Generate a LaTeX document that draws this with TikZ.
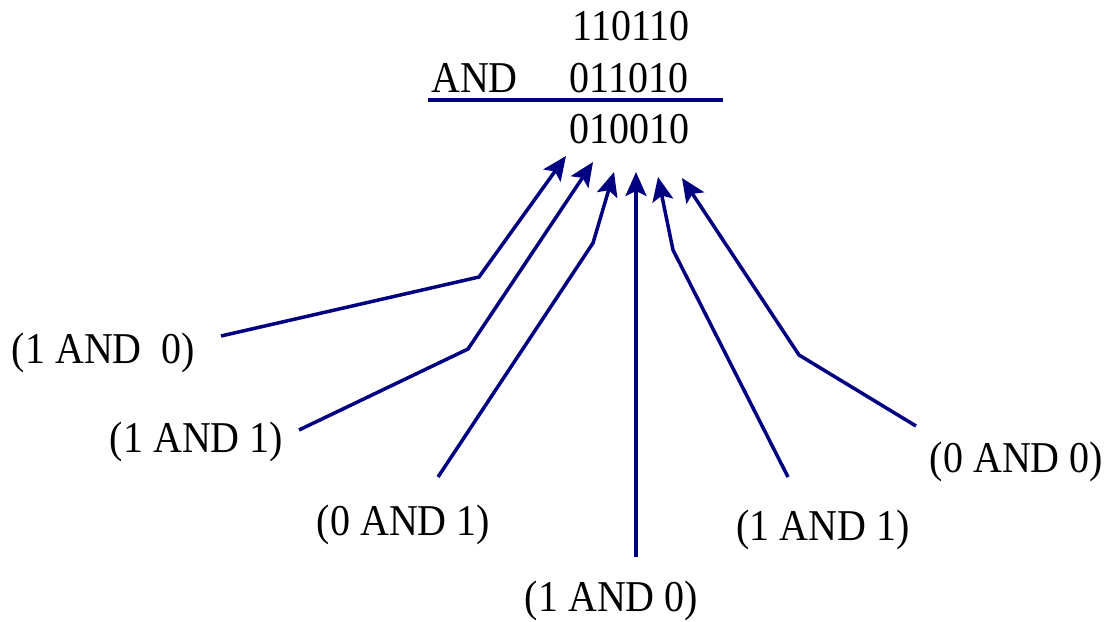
\documentclass[tikz,border=0pt]{standalone}
\usepackage{fontspec}
\setmainfont{Liberation Serif}
\usetikzlibrary{arrows.meta}
\definecolor{navy}{RGB}{0,0,128}
\newcommand\talltext[1]{\scalebox{1}[1.1]{#1}}
\tikzset{
  txt/.style={inner sep=0pt, anchor=base, font=\fontsize{40}{44}\selectfont},
  conn/.style={draw=navy, line width=3.5pt, line join=miter, -{Stealth[length=24pt,width=21pt,inset=5pt]}},
  rule/.style={draw=navy, line width=4pt}
}
\begin{document}
\begin{tikzpicture}[x=1pt,y=-1pt]
\useasboundingbox (0,0) rectangle (1108,621);
% operands
\node[txt] (a) at (631,40) {\talltext{110110}};
\node[txt] (op) at (474.5,92) {\talltext{AND}};
\node[txt] (b) at (629,92) {\talltext{011010}};
\node[txt] (r) at (629,143) {\talltext{010010}};
\coordinate (rl) at (428,100);
\coordinate (rr) at (723,100);
\draw[rule] (rl) -- (rr);
% labels
\node[txt] (l1) at (103.5,363) {\talltext{(1 AND\ \ 0)}};
\node[txt] (l2) at (196.5,452) {\talltext{(1 AND 1)}};
\node[txt] (l3) at (403.5,535) {\talltext{(0 AND 1)}};
\node[txt] (l4) at (611.5,611) {\talltext{(1 AND 0)}};
\node[txt] (l5) at (823,540) {\talltext{(1 AND 1)}};
\node[txt] (l6) at (1016.5,472) {\talltext{(0 AND 0)}};
% tips
\coordinate (t1) at (566,156);
\coordinate (t2) at (593,162);
\coordinate (t3) at (614,172);
\coordinate (t4) at (636,172);
\coordinate (t5) at (658,177);
\coordinate (t6) at (682,178);
% starts
\coordinate (s1) at (221,336);
\coordinate (s2) at (299,430);
\coordinate (s3) at (438,477);
\coordinate (s4) at (636,557);
\coordinate (s5) at (788,477);
\coordinate (s6) at (916,426);
% bends
\coordinate (k1) at (479,277);
\coordinate (k2) at (468,349);
\coordinate (k3) at (593,243);
\coordinate (k5) at (673,250);
\coordinate (k6) at (799,355);
% connectors
\draw[conn] (s1) -- (k1) -- (t1);
\draw[conn] (s2) -- (k2) -- (t2);
\draw[conn] (s3) -- (k3) -- (t3);
\draw[conn] (s4) -- (t4);
\draw[conn] (s5) -- (k5) -- (t5);
\draw[conn] (s6) -- (k6) -- (t6);
\end{tikzpicture}
\end{document}
